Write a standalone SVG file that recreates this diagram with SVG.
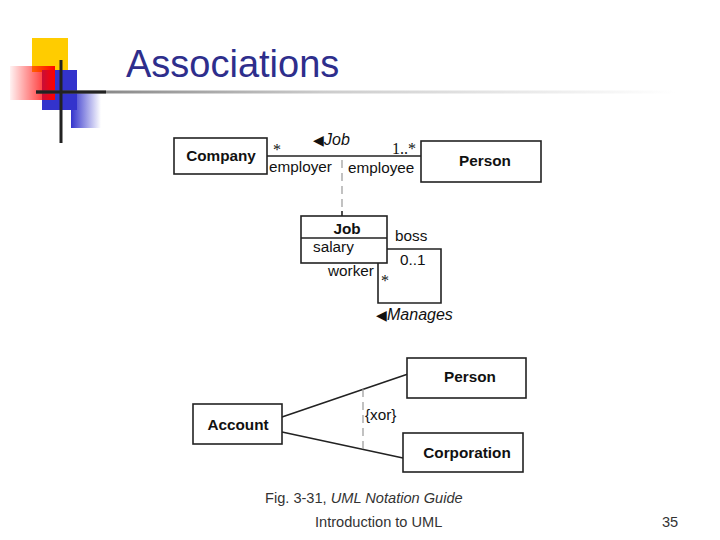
<svg xmlns="http://www.w3.org/2000/svg" width="720" height="540" viewBox="0 0 720 540">
<defs>
<linearGradient id="gRed" x1="0" y1="0" x2="1" y2="0"><stop offset="0" stop-color="#ff0000" stop-opacity="0.05"/><stop offset="1" stop-color="#ff0000"/></linearGradient>
<linearGradient id="gBlue" x1="0" y1="0" x2="1" y2="0"><stop offset="0" stop-color="#3333cc"/><stop offset="1" stop-color="#3333cc" stop-opacity="0"/></linearGradient>
<linearGradient id="gLine" x1="0" y1="0" x2="1" y2="0"><stop offset="0" stop-color="#333333"/><stop offset="0.1" stop-color="#888888"/><stop offset="0.45" stop-color="#cccccc"/><stop offset="1" stop-color="#ffffff"/></linearGradient>
<style>
.box{fill:#fff;stroke:#222;stroke-width:1.6}
.ln{stroke:#222;stroke-width:1.6;fill:none}
.dash{stroke:#999;stroke-width:1.2;stroke-dasharray:8,5;fill:none}
.b{font-family:"Liberation Sans",Arial,sans-serif;font-weight:bold;font-size:15.3px;fill:#111;text-anchor:middle}
.t{font-family:"Liberation Sans",Arial,sans-serif;font-size:15.3px;fill:#111}
.i{font-family:"Liberation Sans",Arial,sans-serif;font-style:italic;font-size:16px;fill:#111}
.s{font-family:"Liberation Serif","Times New Roman",serif;font-size:16px;fill:#111}
.f{font-family:"Liberation Sans",Arial,sans-serif;font-size:14.6px;fill:#333}
</style>
</defs>
<rect width="720" height="540" fill="#fff"/>
<g id="logo">
<rect x="32" y="38" width="36" height="34" fill="#ffcc00"/>
<rect x="42" y="70" width="35" height="40" fill="#3333cc"/>
<rect x="10" y="66" width="45" height="34" fill="url(#gRed)"/>
<rect x="71" y="93" width="30" height="35" fill="url(#gBlue)"/>
<rect x="36" y="90.5" width="640" height="3" fill="url(#gLine)"/>
<rect x="36" y="90.5" width="70" height="3" fill="#222"/>
<rect x="59.5" y="60" width="3" height="83" fill="#222"/>
</g>
<text x="126" y="77" font-family="'Liberation Sans',Arial,sans-serif" font-size="38" fill="#2e2e8c">Associations</text>
<g id="connectors">
<line class="ln" x1="267" y1="156" x2="421" y2="156"/>
<line class="dash" x1="342" y1="160" x2="342" y2="212"/>
<line class="ln" x1="342" y1="211" x2="342" y2="216"/>
<polyline class="ln" points="387,249 441,249 441,303 378,303 378,263"/>
<line class="ln" x1="282" y1="417" x2="408" y2="374"/>
<line class="ln" x1="282" y1="432" x2="403" y2="458"/>
<line class="dash" x1="363" y1="389" x2="363" y2="449"/>
</g>
<g id="company"><rect class="box" x="174" y="138" width="93" height="36"/><text class="b" x="221" y="161">Company</text></g>
<g id="person1"><rect class="box" x="421" y="141" width="120" height="41"/><text class="b" x="485" y="166">Person</text></g>
<g id="job"><rect class="box" x="301" y="216" width="86" height="47"/><line class="ln" x1="301" y1="238" x2="387" y2="238"/><text class="b" x="347" y="234">Job</text><text class="t" x="313" y="252">salary</text></g>
<g id="account"><rect class="box" x="193" y="404" width="89" height="40"/><text class="b" x="238" y="430">Account</text></g>
<g id="person2"><rect class="box" x="407" y="358" width="119" height="40"/><text class="b" x="470" y="382">Person</text></g>
<g id="corporation"><rect class="box" x="403" y="433" width="120" height="39"/><text class="b" x="467" y="458">Corporation</text></g>
<g id="labels">
<text class="s" x="273" y="155">*</text>
<text class="i" x="313" y="145"><tspan font-style="normal" font-size="14">◀</tspan>Job</text>
<text class="s" x="392" y="154">1..*</text>
<text class="t" x="269" y="172">employer</text>
<text class="t" x="348" y="173">employee</text>
<text class="t" x="395" y="241">boss</text>
<text class="t" x="400" y="265">0..1</text>
<text class="t" x="328" y="276">worker</text>
<text class="s" x="381" y="286">*</text>
<text class="i" x="376" y="320"><tspan font-style="normal" font-size="14">◀</tspan>Manages</text>
<text class="t" x="365" y="420">{xor}</text>
</g>
<g id="footer">
<text class="f" x="265" y="503">Fig. 3-31, <tspan font-style="italic">UML Notation Guide</tspan></text>
<text class="f" x="315" y="527" fill="#111" font-size="14">Introduction to UML</text>
<text class="f" x="662" y="527" fill="#111" font-size="14">35</text>
</g>
</svg>
